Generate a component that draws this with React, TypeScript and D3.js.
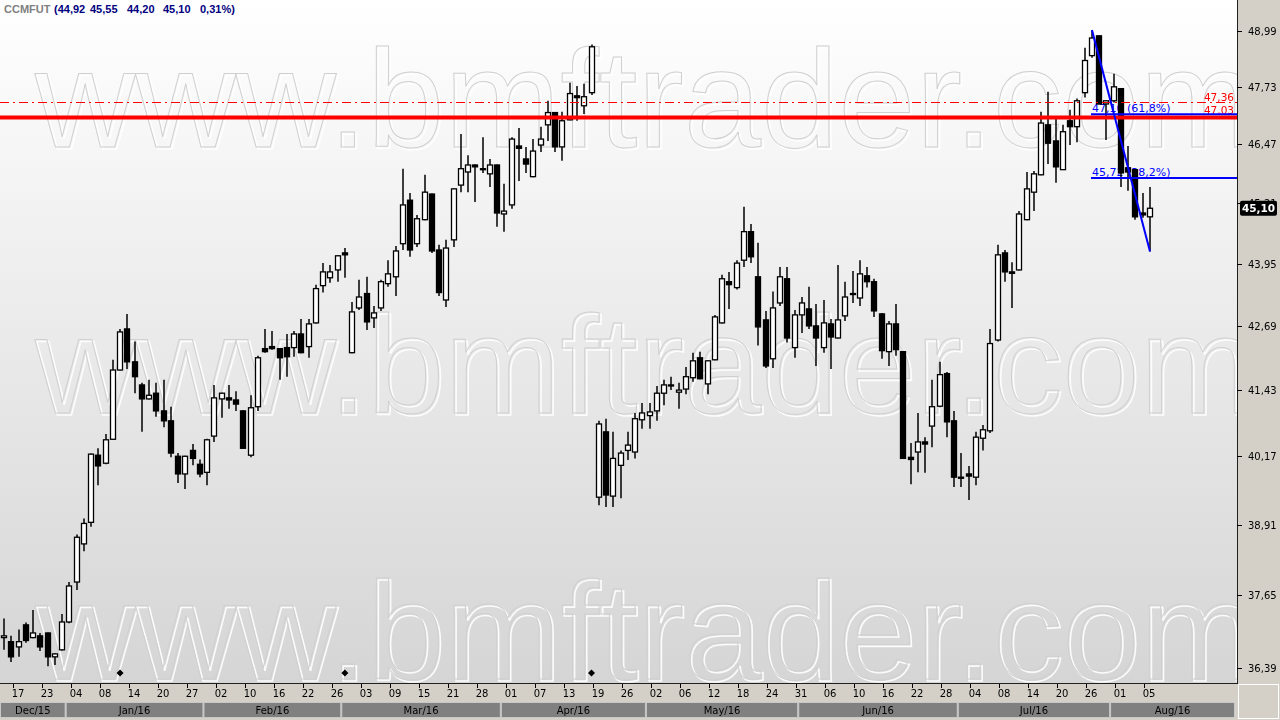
import React from 'react';
import * as d3 from 'd3';

// ---------- DATA ----------
const SYMBOL = 'CCMFUT';
const HEADER_VALUES = ['(44,92', '45,55', '44,20', '45,10', '0,31%)'];

const SESSIONS: [string, number[]][] = [
  ['2015-12', [15, 16, 17, 18, 21, 22, 23, 28, 29, 30]],
  ['2016-01', [4, 5, 6, 7, 8, 11, 12, 13, 14, 15, 18, 19, 20, 21, 22, 26, 27, 28, 29]],
  ['2016-02', [1, 2, 3, 4, 5, 10, 11, 12, 15, 16, 17, 18, 19, 22, 23, 24, 25, 26, 29]],
  ['2016-03', [1, 2, 3, 4, 7, 8, 9, 10, 11, 14, 15, 16, 17, 18, 21, 22, 23, 24, 28, 29, 30, 31]],
  ['2016-04', [1, 4, 5, 6, 7, 8, 11, 12, 13, 14, 15, 18, 19, 20, 22, 25, 26, 27, 28, 29]],
  ['2016-05', [2, 3, 4, 5, 6, 9, 10, 11, 12, 13, 16, 17, 18, 19, 20, 23, 24, 25, 27, 30, 31]],
  ['2016-06', [1, 2, 3, 6, 7, 8, 9, 10, 13, 14, 15, 16, 17, 20, 21, 22, 23, 24, 27, 28, 29, 30]],
  ['2016-07', [1, 4, 5, 6, 7, 8, 11, 12, 13, 14, 15, 18, 19, 20, 21, 22, 25, 26, 27, 28, 29]],
  ['2016-08', [1, 2, 3, 4, 5]],
];
const MONTH_LABELS = ['Dec/15', 'Jan/16', 'Feb/16', 'Mar/16', 'Apr/16', 'May/16', 'Jun/16', 'Jul/16', 'Aug/16'];

const OPEN = [
  36.91, 36.84, 36.75, 37.13, 36.91, 36.94, 36.99, 36.58, 36.70, 37.18,
  37.88, 38.56, 38.95, 40.19, 40.04, 40.49, 41.82, 42.63, 41.98, 41.53,
  41.26, 41.37, 41.03, 40.84, 40.17, 39.84, 40.28, 40.02, 39.87, 40.55,
  41.26, 41.28, 41.24, 41.03, 40.19, 41.11, 42.24, 42.28, 42.24, 42.26,
  42.26, 42.53, 42.28, 42.75, 43.50, 43.66, 43.82, 44.17, 42.16, 43.05,
  43.34, 42.85, 43.05, 43.54, 43.68, 44.36, 45.27, 44.36, 44.86, 45.40,
  44.23, 43.21, 44.44, 45.59, 45.87, 46.02, 45.94, 45.83, 46.02, 44.98,
  45.17, 46.43, 46.15, 45.77, 46.45, 46.89, 47.16, 46.41, 47.00, 47.53,
  47.31, 47.60, 39.41, 40.63, 39.43, 40.00, 40.28, 40.25, 40.86, 40.94,
  41.03, 41.37, 41.53, 41.39, 41.45, 41.67, 42.06, 41.55, 42.02, 42.75,
  43.58, 43.46, 44.02, 44.61, 43.68, 42.81, 42.04, 43.15, 43.64, 42.26,
  42.91, 43.03, 42.69, 42.26, 42.73, 42.45, 42.89, 43.32, 43.25, 43.70,
  43.58, 42.93, 42.18, 42.73, 42.18, 40.15, 40.25, 40.44, 40.74, 41.12,
  41.75, 40.84, 39.78, 39.84, 39.78, 40.51, 40.65, 42.41, 44.17, 43.78,
  43.82, 44.86, 45.44, 45.81, 46.89, 46.54, 45.92, 46.98, 46.85, 47.60,
  48.43, 48.88, 47.35, 47.42, 47.69, 45.96, 45.92, 45.00, 44.92,
];
const HIGH = [
  37.24, 36.94, 37.05, 37.17, 37.39, 36.99, 37.00, 36.64, 37.32, 37.88,
  38.73, 39.02, 40.22, 40.32, 40.59, 42.02, 42.63, 42.93, 42.38, 41.57,
  41.63, 41.57, 41.63, 41.11, 40.23, 40.18, 40.40, 40.11, 40.50, 41.53,
  41.38, 41.53, 41.41, 41.04, 41.33, 42.10, 42.63, 42.59, 42.25, 42.53,
  42.59, 42.83, 42.83, 43.52, 43.96, 43.92, 44.12, 44.27, 43.17, 43.62,
  43.68, 43.09, 43.62, 44.02, 44.31, 45.94, 45.42, 44.96, 45.81, 45.41,
  44.34, 44.44, 45.52, 46.69, 46.23, 46.03, 46.62, 46.15, 46.03, 45.62,
  46.62, 46.82, 46.41, 46.58, 46.85, 47.42, 47.17, 47.18, 47.82, 47.75,
  47.80, 48.68, 40.84, 40.88, 40.63, 40.28, 40.63, 40.99, 41.18, 41.18,
  41.51, 41.63, 41.69, 41.57, 41.88, 42.16, 42.18, 42.01, 42.91, 43.72,
  43.78, 44.02, 45.13, 44.77, 44.38, 42.99, 43.38, 43.88, 43.88, 43.01,
  43.27, 43.48, 43.13, 43.21, 42.83, 43.92, 43.58, 43.80, 44.02, 43.88,
  43.64, 42.95, 42.79, 43.13, 42.19, 40.42, 40.99, 40.53, 41.63, 41.98,
  41.78, 41.03, 40.23, 39.99, 40.63, 40.76, 42.63, 44.34, 44.23, 43.98,
  45.04, 45.87, 45.89, 47.18, 47.62, 47.04, 46.89, 47.22, 47.47, 48.61,
  49.01, 48.89, 47.43, 48.02, 47.70, 46.43, 45.93, 45.42, 45.55,
];
const LOW = [
  36.70, 36.49, 36.58, 36.82, 36.90, 36.68, 36.42, 36.44, 36.69, 37.16,
  37.74, 38.43, 38.87, 39.63, 40.02, 40.48, 41.81, 41.84, 41.37, 40.63,
  41.25, 40.92, 40.72, 40.15, 39.67, 39.56, 40.00, 39.78, 39.63, 40.44,
  40.90, 41.07, 41.03, 40.31, 40.15, 41.03, 42.16, 42.22, 41.63, 41.69,
  42.08, 42.15, 42.06, 42.74, 43.36, 43.56, 43.58, 43.66, 42.15, 43.01,
  42.61, 42.65, 42.99, 43.48, 43.29, 44.23, 44.09, 44.29, 44.85, 44.17,
  43.29, 43.07, 44.29, 45.44, 45.44, 45.23, 45.85, 45.55, 44.71, 44.61,
  45.09, 45.68, 45.85, 45.76, 46.30, 46.54, 46.30, 46.11, 46.99, 46.98,
  47.13, 47.55, 39.26, 39.23, 39.23, 39.39, 40.10, 40.13, 40.69, 40.69,
  40.84, 41.14, 41.43, 41.07, 41.35, 41.59, 41.64, 41.35, 42.01, 42.74,
  43.03, 43.42, 43.88, 43.96, 42.30, 41.86, 41.86, 43.09, 42.36, 42.06,
  42.55, 42.63, 41.90, 42.16, 41.84, 42.44, 42.79, 43.15, 43.09, 43.46,
  42.87, 42.04, 41.90, 42.10, 40.12, 39.65, 39.87, 39.86, 40.34, 41.10,
  40.53, 39.60, 39.60, 39.36, 39.63, 40.28, 40.61, 42.38, 43.58, 43.05,
  43.81, 44.85, 45.04, 45.80, 46.04, 45.64, 45.91, 46.45, 46.51, 47.49,
  48.38, 47.34, 46.56, 47.38, 45.55, 45.47, 44.86, 44.90, 44.20,
];
const CLOSE = [
  36.94, 36.58, 36.84, 36.86, 36.99, 36.75, 36.58, 36.63, 37.18, 37.81,
  38.68, 38.93, 40.21, 39.99, 40.48, 41.82, 42.57, 41.98, 41.69, 41.26,
  41.33, 41.03, 40.84, 40.23, 39.84, 40.17, 40.13, 39.84, 40.48, 41.28,
  41.37, 41.24, 41.16, 40.32, 41.09, 42.06, 42.18, 42.24, 42.06, 42.08,
  42.53, 42.16, 42.73, 43.44, 43.78, 43.78, 44.11, 44.13, 42.97, 43.27,
  42.77, 42.95, 43.58, 43.74, 44.21, 45.17, 44.23, 44.88, 45.44, 44.21,
  43.36, 44.27, 45.51, 45.94, 46.02, 45.98, 45.92, 46.02, 45.00, 45.04,
  46.58, 46.38, 46.04, 46.32, 46.58, 47.16, 46.41, 46.98, 47.58, 47.49,
  47.51, 48.63, 40.78, 39.45, 40.13, 40.23, 40.38, 40.88, 40.99, 41.01,
  41.37, 41.53, 41.51, 41.43, 41.69, 42.00, 41.65, 42.00, 42.87, 43.64,
  43.52, 43.96, 44.61, 44.09, 42.67, 41.90, 43.05, 43.68, 42.45, 42.91,
  43.15, 42.69, 42.45, 42.75, 42.47, 42.81, 43.27, 43.34, 43.74, 43.58,
  42.99, 42.20, 42.73, 42.22, 40.13, 40.11, 40.44, 40.40, 41.11, 41.73,
  40.82, 39.78, 39.76, 39.80, 40.53, 40.67, 42.34, 44.13, 43.78, 43.75,
  44.98, 45.51, 45.83, 46.93, 46.49, 45.98, 46.74, 46.85, 47.42, 48.32,
  48.83, 47.35, 47.42, 47.73, 45.85, 45.87, 44.92, 44.96, 45.10,
];

const PRICE_TICKS = [36.39, 37.65, 38.91, 40.17, 41.43, 42.69, 43.95, 45.21, 46.47, 47.73, 48.99];
const EVENT_DATES = ['2016-01-12', '2016-02-29', '2016-04-18'];

// horizontal reference lines (red)
const RED_DASH_LEVEL = 47.36;
const RED_SOLID_LEVEL = 47.03;
// fibonacci study (blue)
const FIB_FROM = '2016-07-26';
const FIB_TO = '2016-08-05';
const FIB_LEVELS = [47.10, 45.72];
const FIB_LABELS = ['47,10 (61,8%)', '45,72 (38,2%)'];

// ---------- LAYOUT ----------
const W = 1280;
const H = 720;
const PLOT_R = 1237;
const PLOT_B = 683;
const FONT = '"DejaVu Sans", Verdana, sans-serif';

const pad = (n: number) => (n < 10 ? '0' + n : '' + n);
const DATES: string[] = SESSIONS.flatMap(([m, days]) => days.map((d) => `${m}-${pad(d)}`));
const fmt = (v: number) => d3.format('.2f')(v).replace('.', ',');
const crisp = (v: number) => Math.round(v) + 0.5;

export default function App() {
  const x = d3.scalePoint<string>().domain(DATES).range([4, 1150]);
  const step = x.step();
  const y = d3.scaleLog().domain([36.39, 48.99]).range([668, 31]);

  // month tabs
  const monthStarts = SESSIONS.map(([m]) => DATES.findIndex((d) => d.startsWith(m)));
  const tabs = monthStarts.map((idx, k) => {
    const x0 = k === 0 ? 0 : (x(DATES[idx]) as number) - 1.5 * step;
    const x1 = k === monthStarts.length - 1 ? 1235 : (x(DATES[monthStarts[k + 1]]) as number) - 1.5 * step;
    return { x0, x1, label: MONTH_LABELS[k] };
  });

  const dayTicks = DATES.map((d, i) => ({ d, i })).filter(({ i }) => i % 4 === 2);

  const lastIdx = DATES.length - 1;
  const lastClose = CLOSE[lastIdx];
  const fromIdx = DATES.indexOf(FIB_FROM);
  const toIdx = DATES.indexOf(FIB_TO);
  const fibX0 = x(FIB_FROM) as number;

  const watermarkRows = [147, 413, 679];
  const yDash = crisp(y(RED_DASH_LEVEL)) - 1;

  return (
    <svg width={W} height={H} style={{ position: 'fixed', left: 0, top: 0, display: 'block' }}>
      <defs>
        <linearGradient id="bgGrad" x1="0" y1="0" x2="0" y2="1">
          <stop offset="0" stopColor="#ffffff" />
          <stop offset="1" stopColor="#d5d5d5" />
        </linearGradient>
        <clipPath id="plotClip">
          <rect x={0} y={0} width={PLOT_R} height={PLOT_B} />
        </clipPath>
      </defs>

      <rect x={0} y={0} width={PLOT_R} height={PLOT_B} fill="url(#bgGrad)" />

      {/* watermark */}
      <g clipPath="url(#plotClip)" fontFamily='"Liberation Sans", Arial, sans-serif' fontSize={139}>
        {watermarkRows.map((by) => (
          <g key={by}>
            <text x={37} y={by + 2} fill="none" stroke="#ffffff" strokeWidth={1.6} opacity={0.9}>
              www.bmftrader.com
            </text>
            <text x={35} y={by} fill="none" stroke="#d0d0d0" strokeWidth={1}>
              www.bmftrader.com
            </text>
          </g>
        ))}
      </g>

      {/* title */}
      <text x={4} y={13} fontFamily='"Liberation Sans", Arial, sans-serif' fontSize={11} fontWeight="bold" fill="#808080">
        {SYMBOL}
      </text>
      {HEADER_VALUES.map((v, k) => (
        <text
          key={k}
          x={[54, 90, 127, 163, 200][k]}
          y={13}
          fontFamily='"Liberation Sans", Arial, sans-serif'
          fontSize={11}
          fontWeight="bold"
          fill="#000080"
        >
          {v}
        </text>
      ))}

      {/* fib labels (under candles) */}
      <g clipPath="url(#plotClip)">
        {FIB_LEVELS.map((lv, k) => (
          <text key={k} x={fibX0} y={y(lv) - 3} fontFamily={FONT} fontSize={11} fill="#0000ff">
            {FIB_LABELS[k]}
          </text>
        ))}
      </g>

      {/* candles */}
      <g clipPath="url(#plotClip)">
        {DATES.map((d, i) => {
          const cx = Math.round(x(d) as number);
          const o = OPEN[i];
          const c = CLOSE[i];
          const up = c >= o;
          const yt = y(Math.max(o, c));
          const yb = y(Math.min(o, c));
          return (
            <g key={d}>
              <line x1={cx} x2={cx} y1={y(HIGH[i])} y2={y(LOW[i])} stroke="#000" strokeWidth={1.5} />
              <rect
                x={cx - 2.5}
                y={yt}
                width={5}
                height={Math.max(yb - yt, 1)}
                fill={up ? '#ffffff' : '#000000'}
                stroke="#000"
                strokeWidth={1.3}
              />
            </g>
          );
        })}
      </g>

      {/* red reference lines */}
      <line x1={0} x2={PLOT_R} y1={yDash} y2={yDash} stroke="#ff0000" strokeWidth={1} strokeDasharray="9,4,2,4" shapeRendering="crispEdges" />
      <line x1={0} x2={PLOT_R} y1={y(RED_SOLID_LEVEL) - 1} y2={y(RED_SOLID_LEVEL) - 1} stroke="#ff0000" strokeWidth={4} />
      <text x={1234} y={yDash - 1.5} textAnchor="end" fontFamily={FONT} fontSize={10.5} fill="#ff0000">
        {fmt(RED_DASH_LEVEL)}
      </text>
      <text x={1234} y={y(RED_SOLID_LEVEL) - 4} textAnchor="end" fontFamily={FONT} fontSize={10.5} fill="#ff0000">
        {fmt(RED_SOLID_LEVEL)}
      </text>

      {/* blue fib lines */}
      {FIB_LEVELS.map((lv, k) => (
        <line key={k} x1={fibX0 - 1} x2={PLOT_R} y1={y(lv) - 1} y2={y(lv) - 1} stroke="#0000ff" strokeWidth={2} />
      ))}
      <line
        x1={x(DATES[fromIdx]) as number}
        y1={y(HIGH[fromIdx])}
        x2={x(DATES[toIdx]) as number}
        y2={y(LOW[toIdx])}
        stroke="#0000ff"
        strokeWidth={2}
      />

      {/* event markers */}
      {EVENT_DATES.map((d) => {
        const cx = x(d) as number;
        const cy = 673;
        return <path key={d} d={`M${cx},${cy - 3.5}L${cx + 3.5},${cy}L${cx},${cy + 3.5}L${cx - 3.5},${cy}Z`} fill="#000" />;
      })}

      {/* right axis */}
      <rect x={PLOT_R} y={0} width={W - PLOT_R} height={H} fill="#d4d0c8" />
      <line x1={PLOT_R + 0.5} x2={PLOT_R + 0.5} y1={0} y2={PLOT_B} stroke="#202020" strokeWidth={1} />
      {PRICE_TICKS.map((t) => (
        <g key={t}>
          <line x1={PLOT_R} x2={PLOT_R + 5} y1={crisp(y(t))} y2={crisp(y(t))} stroke="#000" />
          <text x={1248} y={y(t) + 4} fontFamily={FONT} fontSize={10} fill="#000">
            {fmt(t)}
          </text>
        </g>
      ))}
      <rect x={1240} y={y(lastClose) - 7.5} width={37} height={15} rx={2} fill="#000" />
      <text
        x={1258.5}
        y={y(lastClose) + 4}
        textAnchor="middle"
        fontFamily={FONT}
        fontSize={10.5}
        fontWeight="bold"
        fill="#ffffff"
      >
        {fmt(lastClose)}
      </text>

      {/* bottom axis */}
      <rect x={0} y={PLOT_B} width={W} height={H - PLOT_B} fill="#d4d0c8" />
      <line x1={0} x2={PLOT_R + 1} y1={PLOT_B + 0.5} y2={PLOT_B + 0.5} stroke="#202020" />
      <rect x={PLOT_R + 1.5} y={PLOT_B + 1.5} width={W - PLOT_R - 3} height={H - PLOT_B - 3} fill="none" stroke="#ffffff" />
      {dayTicks.map(({ d }) => {
        const tx = Math.round(x(d) as number) - 6;
        return (
          <g key={d}>
            <line x1={tx + 0.5} x2={tx + 0.5} y1={PLOT_B + 1} y2={PLOT_B + 5} stroke="#000" />
            <text x={tx + 5} y={697} textAnchor="middle" fontFamily={FONT} fontSize={10} fill="#000">
              {d.slice(8)}
            </text>
          </g>
        );
      })}
      {tabs.map((t) => (
        <g key={t.label}>
          <rect x={t.x0 + 0.5} y={702.5} width={t.x1 - t.x0 - 1} height={15} fill="#808080" stroke="#c8c8c8" strokeWidth={1} />
          <text x={(t.x0 + t.x1) / 2} y={714} textAnchor="middle" fontFamily={FONT} fontSize={10} fill="#000">
            {t.label}
          </text>
        </g>
      ))}
    </svg>
  );
}
